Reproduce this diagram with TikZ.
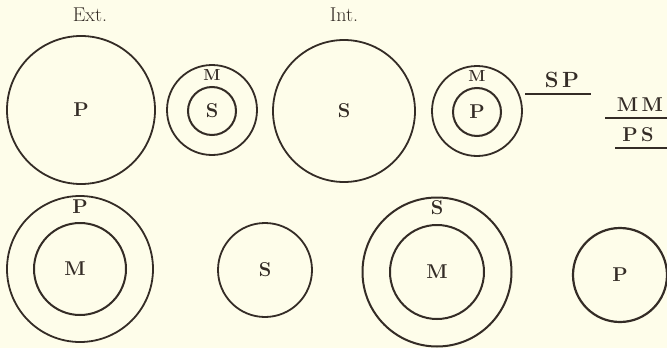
\documentclass[tikz,border=0pt]{standalone}
\usepackage{fontspec}
\setmainfont{Latin Modern Roman}
\usetikzlibrary{positioning}
\definecolor{paper}{RGB}{254,253,234}
\definecolor{ink}{RGB}{52,44,38}

\tikzset{
  ring/.style={draw=ink, circle, line width=1.8pt, inner sep=0pt},
  bigletter/.style={text=ink, font=\fontsize{20}{20}\selectfont\bfseries},
  smallletter/.style={text=ink, font=\fontsize{16}{16}\selectfont\bfseries},
  heading/.style={text=ink, font=\fontsize{20}{20}\selectfont},
  bar/.style={draw=ink, line width=1.5pt}
}

\begin{document}
\begin{tikzpicture}[x=1pt, y=-1pt]
    % Paper
    \fill[paper] (0,0) rectangle (667,348);
    \useasboundingbox (0,0) rectangle (667,348);

    % Headings
    \node[heading] (ext) at (90,15) {Ext.};
    \node[heading] (int) at (344,15) {Int.};

    % Top row
    \node[ring, minimum size=148pt] (extP) at (81,110) {};
    \node[bigletter] at (extP) {P};

    \node[ring, minimum size=90pt] (ringA) at (212,110) {};
    \node[ring, line width=2pt, minimum size=48pt] (ringAin) at (212,111) {};
    \node[bigletter] at (ringAin) {S};
    \node[smallletter, below=2pt of ringA.north] {M};

    \node[ring, minimum size=142pt] (intS) at (344,111) {};
    \node[bigletter] at (intS) {S};

    \node[ring, minimum size=90pt] (ringB) at (477,111) {};
    \node[ring, line width=2pt, minimum size=48pt] (ringBin) at (477,112) {};
    \node[bigletter] at (ringBin) {P};
    \node[smallletter, below=2pt of ringB.north] {M};

    % Figures
    \node[bigletter, font=\fontsize{22}{22}\selectfont\bfseries] (sp) at (562,80) {S\,P};
    \coordinate (spL) at (525,94);
    \coordinate (spR) at (591,94);
    \draw[bar] (spL) -- (spR);

    \node[bigletter] (mm) at (640,105) {M\,M};
    \coordinate (mmL) at (605,118);
    \coordinate (mmR) at (667,118);
    \draw[bar] (mmL) -- (mmR);

    \node[bigletter] (ps) at (638,135) {P\,S};
    \coordinate (psL) at (615,148);
    \coordinate (psR) at (667,148);
    \draw[bar] (psL) -- (psR);

    % Bottom row
    \node[ring, minimum size=146pt] (ringC) at (80,269) {};
    \node[ring, line width=2pt, minimum size=92pt] (ringCin) at (80,269) {};
    \node[bigletter] at (75,269) {M};
    \node[bigletter, below=1pt of ringC.north] {P};

    \node[ring, minimum size=94pt] (botS) at (265,270) {};
    \node[bigletter] at (botS) {S};

    \node[ring, line width=2pt, minimum size=149pt] (ringD) at (437,272) {};
    \node[ring, line width=2pt, minimum size=94pt] (ringDin) at (437,272) {};
    \node[bigletter] at (ringDin) {M};
    \node[bigletter, below=1pt of ringD.north] {S};

    \node[ring, line width=2.2pt, minimum size=94pt] (botP) at (620,275) {};
    \node[bigletter] at (botP) {P};
\end{tikzpicture}
\end{document}
